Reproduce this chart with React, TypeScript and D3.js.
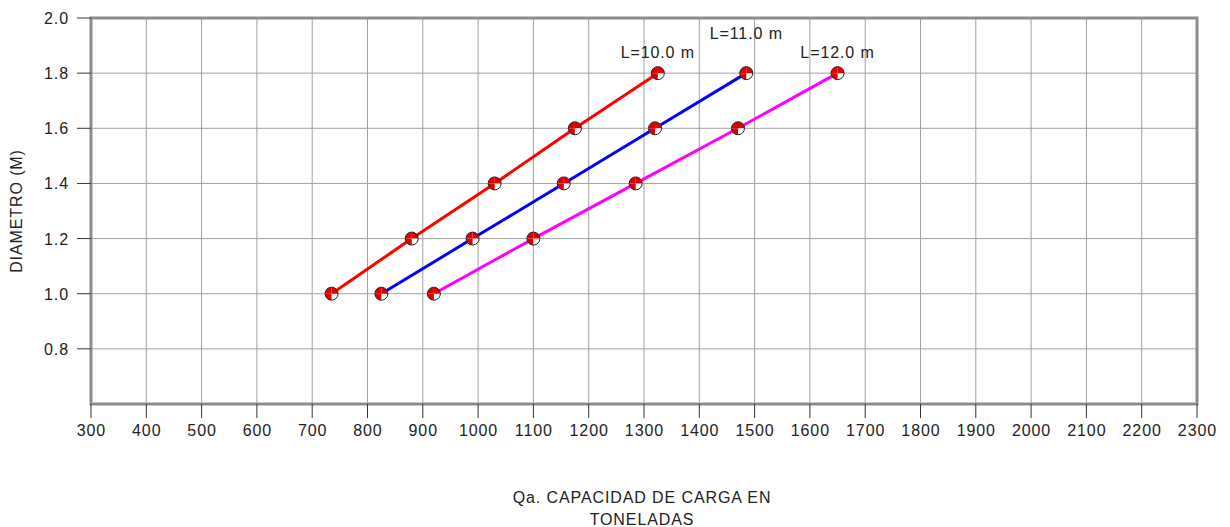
import React from "react";
import * as d3 from "d3";

const diameters = [1.0, 1.2, 1.4, 1.6, 1.8];
const capL10 = [735, 880, 1030, 1175, 1325];
const capL11 = [825, 990, 1155, 1320, 1485];
const capL12 = [920, 1100, 1285, 1470, 1650];
const seriesNames = ["L=10.0 m", "L=11.0 m", "L=12.0 m"];
const seriesColors = ["#ff0000", "#0000ff", "#ff00ff"];
const xTicks = d3.range(300, 2301, 100);
const yTicks = [0.8, 1.0, 1.2, 1.4, 1.6, 1.8, 2.0];

const W = 1230, H = 527;
const M = { left: 91, right: 1197, top: 18, bottom: 404 };
const FONT = "'Liberation Sans', Arial, sans-serif";
const FS = 16;
const LS = 0.9;

export default function App() {
  const x = d3.scaleLinear().domain([300, 2300]).range([M.left, M.right]);
  const y = d3.scaleLinear().domain([0.6, 2.0]).range([M.bottom, M.top]);
  const series = [capL10, capL11, capL12].map((caps, i) => ({
    name: seriesNames[i],
    color: seriesColors[i],
    pts: caps.map((c, j) => [c, diameters[j]] as [number, number]),
  }));
  const line = d3.line<[number, number]>().x(d => x(d[0])).y(d => y(d[1]));
  const labelDy = [-15, -34, -15];
  const r = 6.5;
  const arc = d3.arc<any>().innerRadius(0).outerRadius(r);
  const textProps = { fontSize: FS, fill: "#222", letterSpacing: LS };
  return (
    <svg width={W} height={H} style={{ position: "absolute", left: 0, top: 0, background: "#fff" }} fontFamily={FONT}>
      <rect x={0} y={0} width={W} height={H} fill="#fff" />
      {xTicks.map(t => (
        <line key={"gx" + t} x1={x(t)} x2={x(t)} y1={M.top} y2={M.bottom} stroke="#a0a0a0" strokeWidth={1} />
      ))}
      {yTicks.map(t => (
        <line key={"gy" + t} x1={M.left} x2={M.right} y1={y(t)} y2={y(t)} stroke="#a0a0a0" strokeWidth={1} />
      ))}
      <rect x={M.left} y={M.top} width={M.right - M.left} height={M.bottom - M.top} fill="none" stroke="#8c8c8c" strokeWidth={3} />
      {xTicks.map(t => (
        <g key={"xt" + t}>
          <line x1={x(t)} x2={x(t)} y1={M.bottom} y2={M.bottom + 14} stroke="#333" strokeWidth={1} />
          <text x={x(t) + LS / 2} y={M.bottom + 32} textAnchor="middle" {...textProps}>{t}</text>
        </g>
      ))}
      {yTicks.map(t => (
        <g key={"yt" + t}>
          <line x1={M.left - 14} x2={M.left} y1={y(t)} y2={y(t)} stroke="#333" strokeWidth={1} />
          <text x={M.left - 22} y={y(t) + 6} textAnchor="end" {...textProps}>{t.toFixed(1)}</text>
        </g>
      ))}
      {series.map((s, i) => (
        <path key={"l" + i} d={line(s.pts) || ""} fill="none" stroke={s.color} strokeWidth={3} />
      ))}
      {series.map((s, i) => (
        <g key={"m" + i}>
          {s.pts.map((p, j) => (
            <g key={j} transform={`translate(${x(p[0])},${y(p[1])})`}>
              <circle r={r} fill="#fff" />
              <path d={arc({ startAngle: 0, endAngle: Math.PI / 2 }) || ""} fill="#e00000" />
              <path d={arc({ startAngle: Math.PI, endAngle: Math.PI * 1.5 }) || ""} fill="#e00000" />
              <path d={arc({ startAngle: Math.PI * 1.5, endAngle: Math.PI * 2 }) || ""} fill="#e00000" />
              <circle r={r} fill="none" stroke="#222" strokeWidth={1} />
            </g>
          ))}
          <text x={x(s.pts[4][0])} y={y(s.pts[4][1]) + labelDy[i]} textAnchor="middle" {...textProps}>{s.name}</text>
        </g>
      ))}
      <text x={(M.left + M.right) / 2 - 2} y={503} textAnchor="middle" {...textProps}>Qa. CAPACIDAD DE CARGA EN</text>
      <text x={(M.left + M.right) / 2 - 2} y={525} textAnchor="middle" {...textProps}>TONELADAS</text>
      <text transform={`translate(22,${(M.top + M.bottom) / 2}) rotate(-90)`} textAnchor="middle" {...textProps}>DIAMETRO (M)</text>
    </svg>
  );
}
